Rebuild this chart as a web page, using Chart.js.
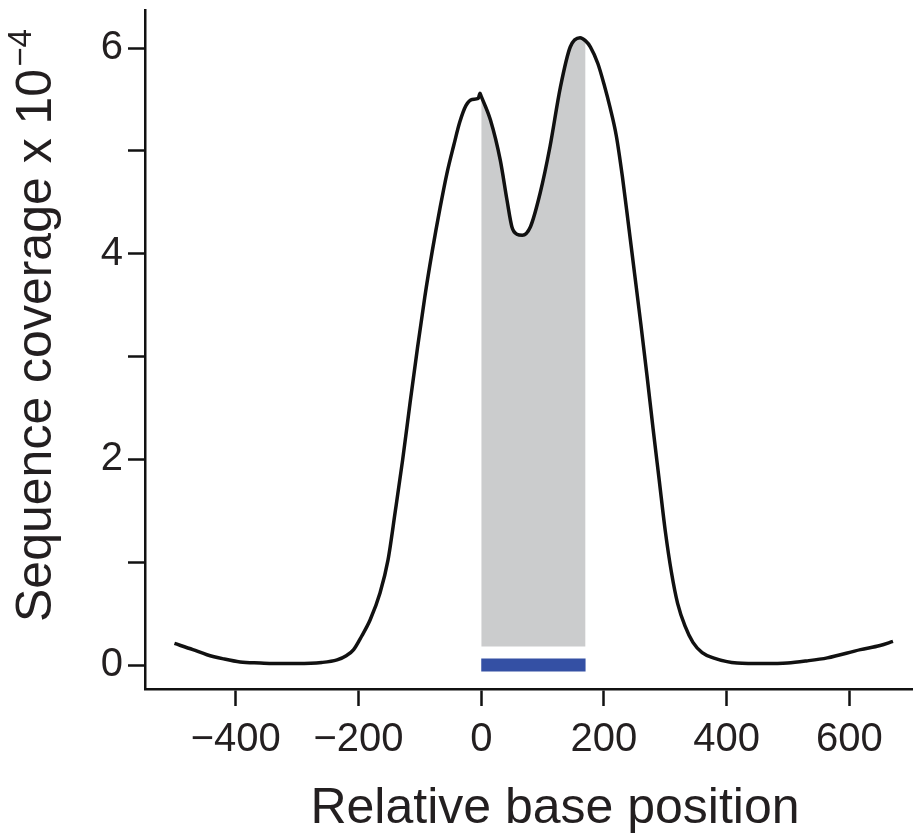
<!DOCTYPE html>
<html>
<head>
<meta charset="utf-8">
<script src="https://cdn.jsdelivr.net/npm/chart.js@4.4.1/dist/chart.umd.min.js"></script>
<style>
  html, body { margin: 0; padding: 0; background: #ffffff; }
  #wrap { width: 916px; height: 838px; position: relative; }
</style>
</head>
<body>
<div id="wrap"><canvas id="c" width="916" height="838"></canvas></div>
<script>
// ---- Data ----
const positions = [-500, -470, -447, -420, -393, -360, -339, -300, -260, -235, -220, -208, -195, -181, -165, -152,
  -140, -128, -116, -104, -92, -80, -67, -56, -45, -35, -25, -15, -5, -2, 0,
  15, 31, 42, 50, 58, 67, 80, 96, 112, 129, 145, 161, 170, 178, 190, 200, 210, 220, 230, 240,
  250, 260, 270, 280, 290, 300, 310, 320, 332, 345, 360, 378, 417, 460, 499, 530, 564, 618, 650, 671];
const coverage = [0.21, 0.15, 0.10, 0.06, 0.03, 0.02, 0.015, 0.015, 0.025, 0.05, 0.09, 0.15, 0.28, 0.44, 0.70, 1.02,
  1.50, 2.00, 2.55, 3.08, 3.58, 4.02, 4.45, 4.78, 5.05, 5.28, 5.44, 5.50, 5.51, 5.56, 5.53,
  5.30, 4.91, 4.52, 4.26, 4.19, 4.18, 4.26, 4.59, 5.04, 5.62, 6.01, 6.10, 6.07, 6.01, 5.85, 5.65, 5.42, 5.15, 4.75, 4.28,
  3.80, 3.32, 2.82, 2.30, 1.80, 1.30, 0.90, 0.60, 0.38, 0.22, 0.12, 0.07, 0.02, 0.015, 0.02, 0.04, 0.07, 0.15, 0.19, 0.23];
const regionStart = 0;      // shaded region / blue bar start
const regionEnd = 170;      // shaded region / blue bar end
const shadeFloor = 0.18;    // bottom of grey shading
const barLevel = 0;         // blue bar level
const xTickValues = [-400, -200, 0, 200, 400, 600];
const yTickLabels = [0, 2, 4, 6];
const xTitle = "Relative base position";
const yTitleMain = "Sequence coverage x 10";
const yTitleSup = "\u22124";

const curvePts = positions.map((x, i) => ({ x: x, y: coverage[i] }));
const shadePts = curvePts.filter(p => p.x >= regionStart && p.x <= regionEnd);
const barPts = [{ x: regionStart, y: barLevel }, { x: regionEnd, y: barLevel }];

const TXT = '#231f20';
const FONT = "'Liberation Sans', Arial, Helvetica, sans-serif";

const titlesPlugin = {
  id: 'titles',
  afterDraw(chart) {
    const ctx = chart.ctx;
    ctx.save();
    ctx.fillStyle = TXT;
    ctx.font = "50px " + FONT;
    ctx.textAlign = 'center';
    ctx.textBaseline = 'alphabetic';
    ctx.fillText(xTitle, 555, 823);
    ctx.restore();

    ctx.save();
    ctx.fillStyle = TXT;
    ctx.translate(51, 622);
    ctx.rotate(-Math.PI / 2);
    ctx.font = "50px " + FONT;
    ctx.textAlign = 'left';
    ctx.textBaseline = 'alphabetic';
    ctx.fillText(yTitleMain, 0, 0);
    const w = ctx.measureText(yTitleMain).width;
    ctx.font = "33px " + FONT;
    ctx.fillText(yTitleSup, w + 2, -20);
    ctx.restore();
  }
};

new Chart(document.getElementById('c'), {
  type: 'scatter',
  data: {
    datasets: [
      {
        label: 'coverage',
        data: curvePts,
        showLine: true,
        borderColor: '#111111',
        borderWidth: 3.5,
        pointRadius: 0,
        cubicInterpolationMode: 'monotone',
        fill: false,
        order: 0
      },
      {
        label: 'shade',
        data: shadePts,
        showLine: true,
        borderWidth: 0,
        borderColor: 'rgba(0,0,0,0)',
        backgroundColor: '#cbcccd',
        pointRadius: 0,
        cubicInterpolationMode: 'monotone',
        fill: { value: shadeFloor },
        order: 2
      },
      {
        label: 'bar',
        data: barPts,
        showLine: true,
        borderColor: '#3450a4',
        borderWidth: 13,
        borderCapStyle: 'butt',
        pointRadius: 0,
        fill: false,
        order: 1
      }
    ]
  },
  options: {
    responsive: false,
    animation: false,
    devicePixelRatio: 1,
    layout: { padding: { left: 0, right: 4, top: 10, bottom: 0 } },
    plugins: { legend: { display: false }, tooltip: { enabled: false } },
    scales: {
      x: {
        type: 'linear',
        min: -548,
        max: 702,
        afterFit(scale) { scale.height = 149; scale.paddingLeft = 0; scale.paddingRight = 0; },
        afterBuildTicks(scale) { scale.ticks = xTickValues.map(v => ({ value: v })); },
        ticks: {
          includeBounds: false,
          font: { size: 40, family: FONT },
          color: TXT,
          padding: 10,
          maxRotation: 0,
          autoSkip: false,
          callback: (v) => (v < 0 ? '\u2212' + Math.abs(v) : String(v))
        },
        grid: { drawOnChartArea: false, drawTicks: true, tickLength: 17, tickWidth: 2.5, tickColor: '#111111' },
        border: { display: true, color: '#111111', width: 2.5 }
      },
      y: {
        type: 'linear',
        min: -0.233,
        max: 6.37,
        afterFit(scale) { scale.width = 145; scale.paddingTop = 0; scale.paddingBottom = 0; },
        ticks: {
          stepSize: 1,
          includeBounds: false,
          font: { size: 40, family: FONT },
          color: TXT,
          padding: 5,
          callback: (v) => (yTickLabels.includes(v) ? String(v) : '')
        },
        grid: { drawOnChartArea: false, drawTicks: true, tickLength: 17, tickWidth: 2.5, tickColor: '#111111' },
        border: { display: true, color: '#111111', width: 2.5 }
      }
    }
  },
  plugins: [titlesPlugin]
});
</script>
</body>
</html>
